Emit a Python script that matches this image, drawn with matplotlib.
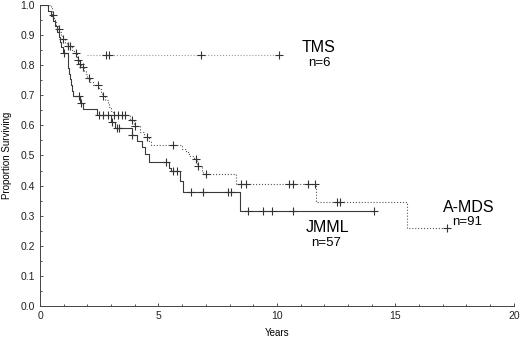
import matplotlib
matplotlib.use("Agg")
import matplotlib.pyplot as plt
from matplotlib.ticker import MultipleLocator, FormatStrFormatter
import numpy as np

plt.rcParams['font.family'] = ['Liberation Sans', 'DejaVu Sans']

# Kaplan-Meier step points (time in years, survival after the step)
jmml_t = [0, 0.35, 0.45, 0.55, 0.62, 0.7, 0.78, 0.85, 0.9, 0.98, 1.18, 1.2, 1.22, 1.25,
          1.3, 1.35, 1.4, 1.7, 1.8, 2.4, 3.0, 3.15, 3.9, 4.1, 4.3, 4.45, 4.6, 5.45,
          5.55, 5.9, 6.03, 8.44, 14.1]
jmml_s = [1.0, 0.982, 0.965, 0.947, 0.93, 0.912, 0.895, 0.877, 0.86, 0.842, 0.808, 0.79,
          0.772, 0.754, 0.735, 0.716, 0.698, 0.675, 0.655, 0.635, 0.612, 0.59, 0.568,
          0.548, 0.527, 0.505, 0.478, 0.46, 0.448, 0.414, 0.379, 0.316, 0.316]
jmml_cens = [1.03, 1.65, 1.75, 2.5, 2.66, 2.87, 3.03, 3.25, 3.32, 3.9, 5.3, 5.6, 5.8,
             6.37, 6.88, 7.93, 8.06, 8.8, 9.4, 9.8, 10.7, 14.1]

amds_t = [0, 0.48, 0.52, 0.56, 0.62, 0.68, 0.75, 0.82, 0.9, 0.95, 1.05, 1.12, 1.35, 1.45,
          1.55, 1.6, 1.65, 1.75, 1.85, 1.95, 2.0, 2.1, 2.25, 2.5, 2.58, 2.62, 2.75, 2.85,
          2.92, 3.0, 3.08, 3.8, 3.95, 4.2, 4.4, 4.6, 4.7, 6.0, 6.15, 6.3, 6.5, 6.62,
          6.85, 6.9, 8.27, 11.65, 15.5, 17.2]
amds_s = [1.0, 0.989, 0.967, 0.956, 0.945, 0.934, 0.92, 0.909, 0.897, 0.886, 0.875, 0.864,
          0.852, 0.84, 0.828, 0.817, 0.805, 0.793, 0.781, 0.77, 0.758, 0.746, 0.734,
          0.722, 0.71, 0.698, 0.685, 0.672, 0.66, 0.648, 0.636, 0.618, 0.597, 0.578,
          0.56, 0.548, 0.535, 0.522, 0.51, 0.498, 0.488, 0.465, 0.45, 0.438, 0.405,
          0.347, 0.26, 0.26]
amds_cens = [0.55, 0.78, 0.98, 1.17, 1.25, 1.5, 1.62, 1.68, 1.8, 2.05, 2.43, 2.67, 3.12,
             3.3, 3.45, 3.6, 3.9, 4.02, 4.5, 5.6, 6.6, 6.68, 7.0, 8.5, 8.7, 10.5, 10.7,
             11.3, 11.6, 12.55, 12.65, 17.2]

tms_t = [2.0, 10.1]
tms_s = [0.833, 0.833]
tms_cens = [2.8, 2.9, 6.8, 10.1]


def surv_at(t, times, surv):
    i = np.searchsorted(times, t, side='right') - 1
    return surv[max(i, 0)]


fig = plt.figure(figsize=(5.2, 3.41), dpi=100)
ax = fig.add_axes([0.077, 0.103, 0.911, 0.882])

curves = [
    (tms_t, tms_s, tms_cens, '#9a9a9a', ':'),
    (amds_t, amds_s, amds_cens, '#555555', ':'),
    (jmml_t, jmml_s, jmml_cens, '#3a3a3a', '-'),
]
for t, s, cens, col, ls in curves:
    ax.step(t, s, where='post', color=col, linestyle=ls, linewidth=0.8)
    cy = [surv_at(c, t, s) for c in cens]
    ax.plot(cens, cy, linestyle='none', marker='+', markersize=6,
            markeredgewidth=0.8, color='#333333')

# group labels
ax.text(11.77, 0.860, "TMS", fontsize=11.5, ha='center', va='center')
ax.text(11.8, 0.807, "n=6", fontsize=9.5, ha='center', va='center')
ax.text(12.15, 0.259, "JMML", fontsize=11.5, ha='center', va='center')
ax.text(12.07, 0.209, "n=57", fontsize=9.5, ha='center', va='center')
ax.text(18.1, 0.326, "A-MDS", fontsize=11.5, ha='center', va='center')
ax.text(18.05, 0.279, "n=91", fontsize=9.5, ha='center', va='center')

ax.set_xlim(0, 20)
ax.set_ylim(0, 1.0)
ax.xaxis.set_major_locator(MultipleLocator(5))
ax.xaxis.set_minor_locator(MultipleLocator(1))
ax.yaxis.set_major_locator(MultipleLocator(0.1))
ax.yaxis.set_minor_locator(MultipleLocator(0.05))
ax.yaxis.set_major_formatter(FormatStrFormatter('%.1f'))
ax.tick_params(which='both', direction='in', labelsize=7.5, length=2, width=0.6,
               colors='#333333', labelcolor='#222222')
ax.tick_params(which='minor', length=1.5)
for sp in ['top', 'right']:
    ax.spines[sp].set_visible(False)
for sp in ['left', 'bottom']:
    ax.spines[sp].set_linewidth(0.7)
    ax.spines[sp].set_color('#444444')

ax.set_xlabel("Years", fontsize=7, labelpad=5)
ax.set_ylabel("Proportion Surviving", fontsize=7, labelpad=6)

fig.savefig("out.png", dpi=100)
